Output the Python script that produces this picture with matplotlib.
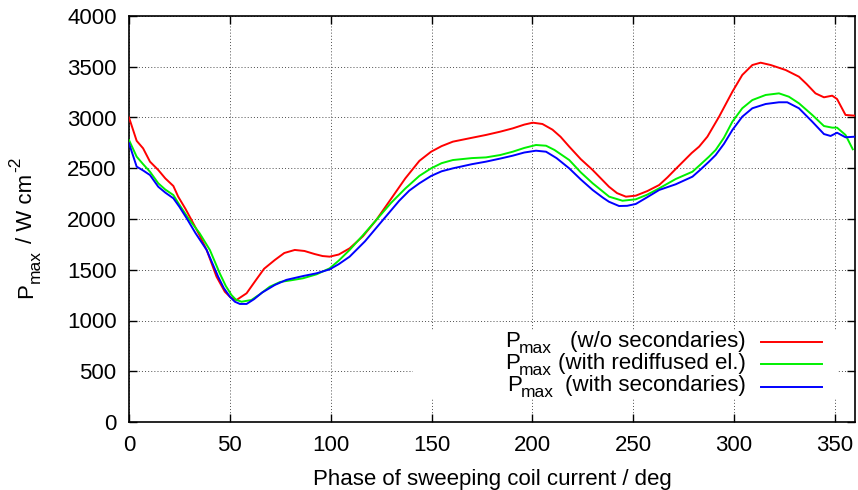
import matplotlib
matplotlib.use("Agg")
import matplotlib.pyplot as plt
from matplotlib.patches import Rectangle
from matplotlib.lines import Line2D
from matplotlib.transforms import IdentityTransform

plt.rcParams['font.family'] = ['Liberation Sans', 'DejaVu Sans']

# Peak power density vs. phase of the sweeping coil current
phase_wo = [0, 3.8, 7, 10.4, 14.5, 18, 22, 24.4, 28, 31, 35, 38.5, 43.4, 47.5, 50.5,
            53.3, 58.3, 63, 67, 72.3, 77, 82.2, 87, 92, 96, 99.5, 104, 109.4, 116,
            122.6, 130, 137, 144, 149.8, 155, 160.6, 170, 177, 184, 190.3, 196,
            200.2, 205, 210, 214, 218.3, 224, 229.9, 238, 242, 246.4, 251.3, 257,
            262.9, 267, 271.1, 279, 282.7, 286.8, 292.6, 299.2, 304.1, 309.1, 313.2,
            318.2, 325.6, 332.2, 336, 340.4, 344.6, 348.7, 351.1, 355.3, 360]
pmax_wo = [3000, 2770, 2696, 2565, 2483, 2400, 2325, 2220, 2100, 1990, 1840, 1695,
           1432, 1284, 1225, 1202, 1268, 1400, 1510, 1596, 1665, 1695, 1685, 1655,
           1635, 1629, 1650, 1711, 1830, 1990, 2200, 2400, 2573, 2663, 2718, 2762,
           2800, 2828, 2860, 2893, 2930, 2949, 2936, 2880, 2810, 2713, 2590, 2483,
           2318, 2255, 2220, 2230, 2275, 2335, 2410, 2493, 2650, 2713, 2811, 3008,
           3254, 3419, 3517, 3540, 3517, 3468, 3402, 3330, 3238, 3199, 3215, 3182,
           3025, 3018]

phase_red = [0, 3.8, 7, 10.4, 14.5, 18, 22, 25, 29.4, 35, 40.1, 45, 48, 50.8, 53,
             55.8, 60.7, 65, 69.8, 75, 80, 86.3, 93, 99.5, 104, 109.4, 116, 122.6,
             130, 137, 144, 149.8, 155, 160.6, 170, 177, 184, 190.3, 196, 201.8,
             206.8, 211, 218.3, 224, 229.9, 238.1, 244.7, 251.3, 257, 262.9, 271.1,
             279.4, 283, 287.6, 290.9, 295, 299.2, 304.1, 309.1, 315.7, 322.3, 327.2,
             332.2, 338.8, 344.6, 348.7, 351.1, 355.3, 358.9]
pmax_red = [2778, 2614, 2540, 2466, 2352, 2290, 2236, 2140, 2007, 1860, 1695, 1465,
            1340, 1251, 1205, 1185, 1202, 1260, 1333, 1380, 1395, 1416, 1455, 1514,
            1590, 1695, 1840, 1990, 2160, 2300, 2425, 2499, 2550, 2581, 2600, 2607,
            2630, 2663, 2700, 2729, 2722, 2680, 2581, 2460, 2352, 2220, 2180, 2194,
            2240, 2302, 2394, 2466, 2530, 2614, 2680, 2800, 2959, 3091, 3172, 3222,
            3238, 3205, 3140, 3025, 2916, 2900, 2900, 2828, 2687]

phase_sec = [0, 3.8, 7, 10.4, 14.5, 18, 22, 25, 28.6, 33, 38.5, 44.2, 47, 50, 52.5,
             55, 58.3, 62, 66, 72.3, 78, 86.3, 93, 99.5, 104, 109.4, 117, 125.9, 134,
             139, 144, 149.8, 155, 160.6, 170, 177, 184, 190.3, 196, 201.8, 206.8,
             212, 218.3, 224, 229.9, 235, 238, 243, 247, 251.3, 257, 262.9, 271.1,
             279.4, 283, 287.6, 290.9, 295, 299.2, 304.1, 309.1, 315.7, 322.3, 326.4,
             332.2, 338.8, 344.6, 347.9, 351.1, 355.3, 360]
pmax_sec = [2746, 2516, 2478, 2433, 2318, 2260, 2204, 2120, 2007, 1860, 1695, 1432,
            1320, 1235, 1185, 1163, 1163, 1210, 1275, 1350, 1400, 1438, 1465, 1504,
            1555, 1629, 1780, 1990, 2180, 2280, 2352, 2424, 2470, 2499, 2540, 2565,
            2595, 2624, 2655, 2673, 2663, 2600, 2499, 2390, 2286, 2210, 2170, 2128,
            2130, 2148, 2215, 2286, 2342, 2417, 2480, 2565, 2630, 2740, 2877, 3008,
            3091, 3133, 3150, 3150, 3091, 2959, 2837, 2818, 2850, 2805, 2811]

series_notes = ['(w/o secondaries)', '(with rediffused el.)', '(with secondaries)']
series_colors = ['#ff0000', '#00f000', '#0000ff']

W, H = 858, 490
fig = plt.figure(figsize=(W / 100, H / 100), dpi=100)
ax = fig.add_axes([129 / W, 1 - 422 / H, (855 - 129) / W, (422 - 16) / H])

ax.set_xlim(0, 360)
ax.set_ylim(0, 4000)
ax.set_xticks(range(0, 351, 50))
ax.set_yticks(range(0, 4001, 500))
ax.set_axisbelow(True)
ax.grid(True, color='0.3', linestyle=(0, (1, 2.2)), linewidth=0.7)

ax.tick_params(direction='in', length=6, width=1, top=True, right=True,
               labelsize=16, colors='black')
ax.tick_params(axis='x', pad=9)
ax.tick_params(axis='y', pad=9)
for sp in ax.spines.values():
    sp.set_linewidth(1.2)

# white key area blanks the grid behind the key entries
ax.add_patch(Rectangle((0.391, 0.059), 0.584, 0.165, transform=ax.transAxes,
                       facecolor='white', edgecolor='none', zorder=1))

for xs, ys, c in zip([phase_wo, phase_red, phase_sec],
                     [pmax_wo, pmax_red, pmax_sec], series_colors):
    ax.plot(xs, ys, color=c, linewidth=1.4, zorder=3)

px = IdentityTransform()


def put(x, y, s, size, **kw):
    """Place text at pixel position (x, y) measured from the top-left corner."""
    return fig.text(x, H - y, s, transform=px, fontsize=size, **kw)


# key: "P_max (note)" right-aligned, followed by a line sample
key_baseline = [346.7, 368.5, 390.5]
key_line_y = [341.7, 364.0, 386.7]
key_p_x = [505, 505, 507]
for note, c, yb, yl, xp in zip(series_notes, series_colors, key_baseline,
                               key_line_y, key_p_x):
    put(xp, yb, 'P', 16, ha='left', va='baseline')
    put(xp + 14, yb + 6.7, 'max', 12.5, ha='left', va='baseline')
    put(746, yb, note, 16, ha='right', va='baseline')
    fig.add_artist(Line2D([761, 822], [H - yl, H - yl], transform=px,
                          color=c, linewidth=1.4))

ax.set_xlabel('Phase of sweeping coil current / deg', fontsize=16)
ax.xaxis.set_label_coords(0.501, -0.115)

# y label built from pieces, running upwards: P, subscript, units, superscript
renderer = fig.canvas.get_renderer()
ylab_base_x = 31.7
ypos = 298.0
for s, size, shift, gap in [('P', 16, 0, 0.5), ('max', 12.5, -8.5, 7),
                            ('/ W cm', 16, 0, 1.5), ('-2', 12.5, 11, 0)]:
    t = put(ylab_base_x - shift, ypos, s, size, rotation=90,
            rotation_mode='anchor', ha='left', va='baseline')
    ypos -= t.get_window_extent(renderer).height + gap

fig.savefig('out.png', dpi=100)
